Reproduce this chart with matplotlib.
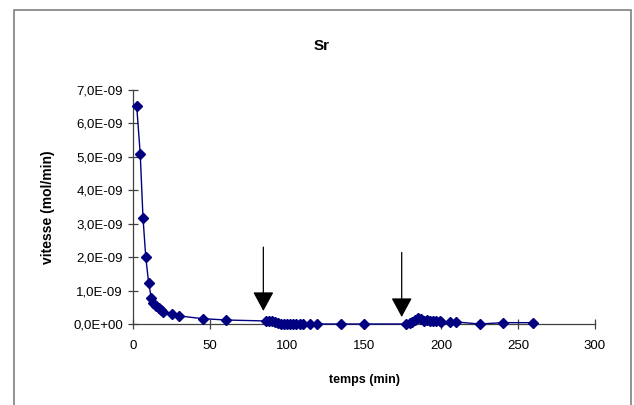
import matplotlib
matplotlib.use("Agg")
import matplotlib.pyplot as plt
from matplotlib.patches import Rectangle
from matplotlib.ticker import FuncFormatter, MultipleLocator

plt.rcParams["font.family"] = ["Liberation Sans", "DejaVu Sans"]

# time (min) and rate (mol/min, in units of 1e-9)
temps = [2.2, 4.5, 6.3, 8.1, 10, 11.7, 13, 14.7, 16.5, 18.2, 19.5, 25, 30, 45, 60,
         86.5, 88, 90, 92, 94, 96, 98, 100, 102, 104, 106, 108, 110, 114.5, 119.5,
         135, 150,
         177.5, 179.6, 181, 183, 185, 187, 189, 191, 193, 195, 197, 199, 200,
         205.5, 210, 225, 240, 260]
vitesse = [6.52, 5.09, 3.18, 2.0, 1.22, 0.77, 0.63, 0.54, 0.47, 0.42, 0.37, 0.29, 0.24,
           0.16, 0.12,
           0.09, 0.1, 0.09, 0.06, 0.03, 0.01, 0.0, 0.0, 0.0, 0.0, 0.0, 0.0, 0.0, 0.0, 0.0,
           0.0, 0.0,
           0.0, 0.02, 0.05, 0.12, 0.17, 0.14, 0.1, 0.12, 0.08, 0.1, 0.1, 0.08, 0.05,
           0.06, 0.06, 0.0, 0.04, 0.04]
vitesse = [v * 1e-9 for v in vitesse]

# arrows: x position, top and tip (mol/min)
arrow_x = [84.5, 174.4]
arrow_top = [2.3e-9, 2.14e-9]
arrow_tip = [0.39e-9, 0.21e-9]

fig = plt.figure(figsize=(6.34, 4.05), dpi=100)
ax = fig.add_axes([133.3 / 634, 1 - 324 / 405, (595 - 133.3) / 634, (324 - 90) / 405])

ax.plot(temps, vitesse, color="#000080", lw=1, marker="D", markersize=5.5,
        markerfacecolor="#000080", markeredgecolor="#000080", clip_on=False, zorder=3)

for x, top, tip in zip(arrow_x, arrow_top, arrow_tip):
    ax.annotate("", xy=(x, tip), xytext=(x, top),
                arrowprops=dict(arrowstyle="-|>,head_length=1.2,head_width=0.65",
                                mutation_scale=10, color="black", lw=0.9,
                                shrinkA=0, shrinkB=0))

ax.set_xlim(0, 300)
ax.set_ylim(0, 7e-9)
ax.xaxis.set_major_locator(MultipleLocator(50))
ax.yaxis.set_major_locator(MultipleLocator(1e-9))
ax.yaxis.set_major_formatter(FuncFormatter(lambda v, p: f"{v:.1E}".replace(".", ",")))
ax.xaxis.set_major_formatter(FuncFormatter(lambda v, p: f"{v:.0f}"))

for s in ["top", "right"]:
    ax.spines[s].set_visible(False)
for s in ["left", "bottom"]:
    ax.spines[s].set_color("#404040")
    ax.spines[s].set_linewidth(0.9)
ax.tick_params(direction="inout", length=7, width=0.9, color="#404040",
               labelsize=9.5, pad=4)
ax.tick_params(axis="x", pad=8)

ax.set_xlabel("temps (min)", fontsize=9, fontweight="bold")
ax.set_ylabel("vitesse (mol/min)", fontsize=10, fontweight="bold")
ax.xaxis.set_label_coords(0.5, -0.215)
ax.yaxis.set_label_coords(-0.17, 0.5)

fig.text(322 / 634, 1 - 46 / 405, "Sr", ha="center", va="center",
         fontsize=11, fontweight="bold")

fig.patches.append(Rectangle((14 / 634, -0.05), (631 - 14) / 634, 1.05 - 10 / 405,
                             transform=fig.transFigure, fill=False,
                             edgecolor="#808080", lw=1.2))

fig.savefig("out.png", dpi=100)
